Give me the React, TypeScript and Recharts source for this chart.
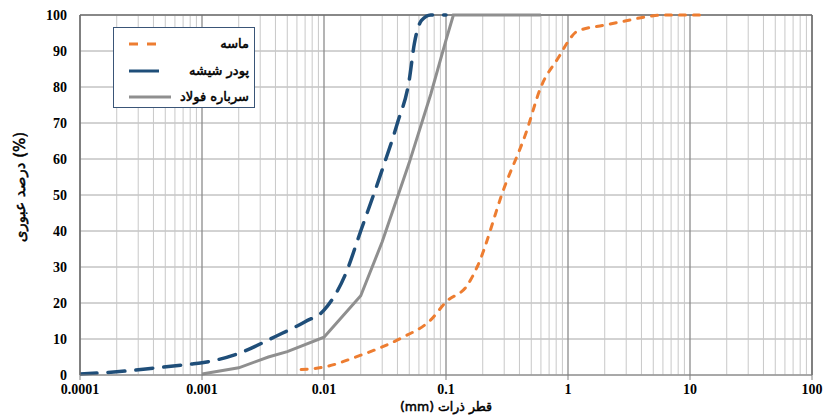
import { CartesianGrid, Line, LineChart, ReferenceLine, XAxis, YAxis } from "recharts";

const xTicks = [0.0001, 0.001, 0.01, 0.1, 1, 10, 100];
const xTickLabels = ["0.0001", "0.001", "0.01", "0.1", "1", "10", "100"];
const yTicks = [0, 10, 20, 30, 40, 50, 60, 70, 80, 90, 100];

// ماسه
const sandSize = [0.0065, 0.01, 0.02, 0.03, 0.045, 0.075, 0.1, 0.15, 0.18, 0.3, 0.45, 0.6, 0.85, 1, 1.18, 2, 3, 4.75, 6, 12.5];
const sandPass = [1.5, 2.2, 5.5, 7.8, 10.6, 15.3, 20.3, 25, 30, 52, 67, 80, 88.6, 92.6, 95.4, 97.2, 98.4, 99.7, 100, 100];

// پودر شیشه
const glassSize = [0.0001, 0.0002, 0.0004, 0.0008, 0.001, 0.002, 0.004, 0.007, 0.01, 0.015, 0.02, 0.03, 0.04, 0.05, 0.055, 0.063, 0.075, 0.1];
const glassPass = [0.3, 0.9, 1.9, 3, 3.4, 6, 10.7, 14.8, 18, 28, 40, 57, 70, 82, 92, 98.5, 100, 100];

// سرباره فولاد
const slagSize = [0.001, 0.002, 0.0035, 0.005, 0.01, 0.02, 0.03, 0.05, 0.075, 0.1, 0.115, 0.6];
const slagPass = [0.3, 2, 5, 6.5, 10.5, 22, 37, 59, 78, 93, 100, 100];

const seriesNames = ["ماسه", "پودر شیشه", "سرباره فولاد"];
const seriesColors = ["#ed7d31", "#1f4e79", "#8f8f8f"];

const toPoints = (sizes: number[], pass: number[]) => sizes.map((size, i) => ({ size, pass: pass[i] }));

const minorX: number[] = [];
for (let d = 0; d < xTicks.length - 1; d++) {
  for (let m = 2; m <= 9; m++) minorX.push(xTicks[d] * m);
}

const tickFont = { fill: "#000", fontSize: 14, fontWeight: 700, fontFamily: "'Liberation Serif', 'Times New Roman', serif" };
const faFont = "'DejaVu Sans', sans-serif";

function ChartLegend() {
  const rows = [
    { name: seriesNames[0], color: seriesColors[0], dash: "9 9", len: 34 },
    { name: seriesNames[1], color: seriesColors[1], dash: "none", len: 30 },
    { name: seriesNames[2], color: seriesColors[2], dash: "none", len: 42 },
  ];
  return (
    <div
      style={{
        position: "absolute",
        left: 113,
        top: 27,
        width: 140,
        height: 79,
        border: "1.5px solid #3a5577",
        background: "#fff",
      }}
    >
      {rows.map((r, i) => (
        <div key={r.name} style={{ position: "absolute", left: 0, right: 0, top: 6 + i * 26.5, height: 20 }}>
          <svg width={50} height={20} style={{ position: "absolute", left: 14, top: 0 }}>
            <line x1={1} x2={1 + r.len} y1={10} y2={10} stroke={r.color} strokeWidth={3} strokeDasharray={r.dash} />
          </svg>
          <div
            style={{
              position: "absolute",
              right: 5,
              top: 0,
              lineHeight: "20px",
              direction: "rtl",
              fontFamily: faFont,
              fontSize: 13,
              color: "#000",
              WebkitTextStroke: "0.5px #000",
            }}
          >
            {r.name}
          </div>
        </div>
      ))}
    </div>
  );
}

export default function App() {
  return (
    <div style={{ position: "absolute", left: 0, top: 0, width: 827, height: 420, background: "#fff" }}>
      <LineChart width={827} height={420} margin={{ top: 15, right: 15, bottom: 0, left: 0 }}>
        <CartesianGrid vertical={false} stroke="#a6a6a6" strokeWidth={1} />
        {minorX.map((v) => (
          <ReferenceLine key={"m" + v} x={v} stroke="#c8c8c8" strokeWidth={1} />
        ))}
        {xTicks.map((v) => (
          <ReferenceLine key={"M" + v} x={v} stroke="#8c8c8c" strokeWidth={1.3} />
        ))}
        <ReferenceLine y={100} stroke="#6f6f6f" strokeWidth={1.5} />
        <XAxis
          dataKey="size"
          type="number"
          scale="log"
          domain={[0.0001, 100]}
          ticks={xTicks}
          allowDataOverflow
          height={45}
          tick={tickFont}
          tickSize={5}
          tickMargin={4}
          stroke="#7f7f7f"
          tickFormatter={(v: number) => {
            const i = xTicks.indexOf(v);
            return i >= 0 ? xTickLabels[i] : String(v);
          }}
          label={(props: any) => {
            const vb = props.viewBox;
            return (
              <text
                x={vb.x + vb.width / 2}
                y={vb.y + 31}
                textAnchor="middle"
                dominantBaseline="central"
                direction="rtl"
                stroke="#000"
                strokeWidth={0.5}
                style={{ fontFamily: faFont, fontSize: 12.5, fill: "#000" }}
              >
                قطر ذرات (mm)
              </text>
            );
          }}
        />
        <YAxis
          type="number"
          domain={[0, 100]}
          ticks={yTicks}
          width={80}
          tickLine={false}
          tickSize={0}
          tickMargin={13}
          tick={tickFont}
          stroke="#6f6f6f"
          strokeWidth={1.5}
          label={(props: any) => {
            const vb = props.viewBox;
            const cx = vb.x + 20;
            const cy = vb.y + vb.height / 2 - 8;
            return (
              <text
                x={cx}
                y={cy}
                transform={`rotate(-90, ${cx}, ${cy})`}
                textAnchor="middle"
                dominantBaseline="central"
                stroke="#000"
                strokeWidth={0.5}
                style={{ fontFamily: faFont, fontSize: 15, fill: "#000" }}
              >
                درصد عبوری (%)
              </text>
            );
          }}
        />
        <ReferenceLine x={100} stroke="#6f6f6f" strokeWidth={1.5} />
        <Line
          data={toPoints(slagSize, slagPass)}
          dataKey="pass"
          name={seriesNames[2]}
          type="linear"
          stroke={seriesColors[2]}
          strokeWidth={3}
          dot={false}
          isAnimationActive={false}
        />
        <Line
          data={toPoints(glassSize, glassPass)}
          dataKey="pass"
          name={seriesNames[1]}
          type="monotone"
          stroke={seriesColors[1]}
          strokeWidth={3.5}
          strokeDasharray="17 11"
          strokeLinecap="round"
          dot={false}
          isAnimationActive={false}
        />
        <Line
          data={toPoints(sandSize, sandPass)}
          dataKey="pass"
          name={seriesNames[0]}
          type="monotone"
          stroke={seriesColors[0]}
          strokeWidth={3}
          strokeDasharray="6 8"
          strokeLinecap="round"
          dot={false}
          isAnimationActive={false}
        />
      </LineChart>
      <ChartLegend />
    </div>
  );
}
